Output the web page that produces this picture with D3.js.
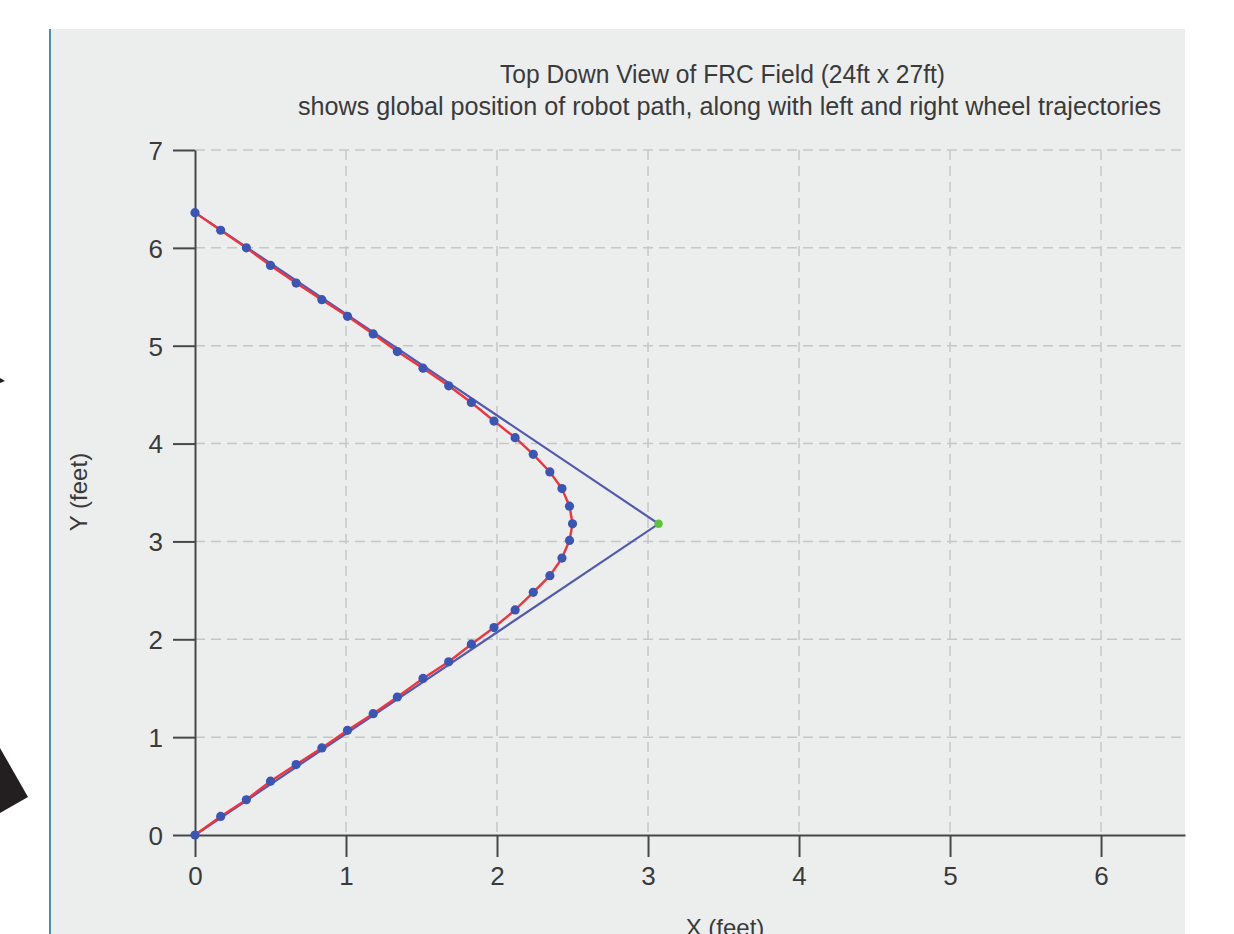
<!DOCTYPE html>
<html>
<head>
<meta charset="utf-8">
<script src="https://cdn.jsdelivr.net/npm/d3@7"></script>
<style>
  html, body { margin: 0; padding: 0; background: #fff; }
  svg { display: block; }
  text { font-family: "Liberation Sans", Arial, sans-serif; fill: #3a3a3a; }
</style>
</head>
<body>
<div id="chart"></div>
<script>
const WIDTH = 1234
const HEIGHT = 934
const PANEL_BG = '#eceeee'
const GRID_COLOR = '#c6c6c6'
const AXIS_COLOR = '#474747'
const PATH_RED = '#f0343c'
const DOT_BLUE = '#3a55b4'
const WAY_BLUE = '#5159b1'
const GREEN = '#5cc43c'

const TITLE = 'Top Down View of FRC Field (24ft x 27ft)'
const SUBTITLE = 'shows global position of robot path, along with left and right wheel trajectories'
const X_LABEL = 'X (feet)'
const Y_LABEL = 'Y (feet)'

const X_TICKS = [0, 1, 2, 3, 4, 5, 6]
const Y_TICKS = [0, 1, 2, 3, 4, 5, 6, 7]
const X_MAX = 6.556
const Y_MAX = 7

// waypoints (straight blue lines)
const WAYPOINT_X = [0, 3.07, 0]
const WAYPOINT_Y = [0, 3.18, 6.36]
// green marker
const MARKER_X = [3.07]
const MARKER_Y = [3.18]

// smoothed robot path (red line + blue dots)
const PATH_X = [0, 0.17, 0.34, 0.50, 0.67, 0.84, 1.01, 1.18, 1.34, 1.51, 1.68, 1.83, 1.98, 2.12, 2.24, 2.35, 2.43, 2.48, 2.50,
  2.48, 2.43, 2.35, 2.24, 2.12, 1.98, 1.83, 1.68, 1.51, 1.34, 1.18, 1.01, 0.84, 0.67, 0.50, 0.34, 0.17, 0]
const PATH_Y = [0, 0.19, 0.36, 0.55, 0.72, 0.89, 1.07, 1.24, 1.41, 1.60, 1.77, 1.95, 2.12, 2.30, 2.48, 2.65, 2.83, 3.01, 3.18,
  3.36, 3.54, 3.71, 3.89, 4.06, 4.23, 4.42, 4.59, 4.77, 4.94, 5.12, 5.30, 5.47, 5.64, 5.82, 6.00, 6.18, 6.36]

const PLOT = { left: 195, right: 1185, top: 150, bottom: 835 }

var svg = d3.select('#chart').append('svg')
  .attr('width', WIDTH).attr('height', HEIGHT)

// background panel
svg.append('rect').attr('x', 50).attr('y', 29)
  .attr('width', PLOT.right - 50).attr('height', HEIGHT - 29)
  .attr('fill', PANEL_BG)
svg.append('line').attr('x1', 50).attr('x2', 50).attr('y1', 29).attr('y2', HEIGHT)
  .attr('stroke', '#4b90aa').attr('stroke-width', 2)

// bits of the screenshot outside the panel
svg.append('path').attr('d', 'M0,748 L28,797 L0,813 Z').attr('fill', '#231f20')
svg.append('path').attr('d', 'M0,378 L5,381 L0,383 Z').attr('fill', '#231f20')

var x = d3.scaleLinear().domain([0, X_MAX]).range([PLOT.left, PLOT.right])
var y = d3.scaleLinear().domain([0, Y_MAX]).range([PLOT.bottom, PLOT.top])

// 网格
var grid = svg.append('g').attr('class', 'grid')
grid.selectAll('.hgrid').data(Y_TICKS.filter(d => d > 0)).enter().append('line')
  .attr('x1', PLOT.left).attr('x2', PLOT.right)
  .attr('y1', d => y(d)).attr('y2', d => y(d))
grid.selectAll('.vgrid').data(X_TICKS.filter(d => d > 0)).enter().append('line')
  .attr('y1', PLOT.top).attr('y2', PLOT.bottom)
  .attr('x1', d => x(d)).attr('x2', d => x(d))
grid.selectAll('line')
  .attr('stroke', GRID_COLOR).attr('stroke-width', 1.5).attr('stroke-dasharray', '10,6')

// axes
var fmt = d3.format('d')
var axisX = d3.axisBottom(x).tickValues(X_TICKS).tickFormat(fmt).tickSize(22).tickPadding(10).tickSizeOuter(0)
var axisY = d3.axisLeft(y).tickValues(Y_TICKS).tickFormat(fmt).tickSize(22).tickPadding(10).tickSizeOuter(0)

var gx = svg.append('g').attr('transform', `translate(0, ${PLOT.bottom})`).call(axisX)
var gy = svg.append('g').attr('transform', `translate(${PLOT.left}, 0)`).call(axisY)

;[gx, gy].forEach(g => {
  g.select('.domain').attr('stroke', AXIS_COLOR).attr('stroke-width', 2)
  g.selectAll('.tick line').attr('stroke', AXIS_COLOR).attr('stroke-width', 2)
  g.selectAll('.tick text').attr('font-size', 26).attr('fill', '#3a3a3a')
    .attr('font-family', '"Liberation Sans", Arial, sans-serif')
})
gy.selectAll('.tick text').attr('dy', '0.36em')

// waypoint lines
var line = d3.line().x(d => x(d[0])).y(d => y(d[1]))
var waypoints = WAYPOINT_X.map((v, i) => [v, WAYPOINT_Y[i]])
svg.append('path').datum(waypoints)
  .attr('d', line).attr('fill', 'none')
  .attr('stroke', WAY_BLUE).attr('stroke-width', 2.2)

// robot path
var path = PATH_X.map((v, i) => [v, PATH_Y[i]])
svg.append('path').datum(path)
  .attr('d', line).attr('fill', 'none')
  .attr('stroke', PATH_RED).attr('stroke-width', 2.4)

svg.append('g').selectAll('circle').data(path).enter().append('circle')
  .attr('cx', d => x(d[0])).attr('cy', d => y(d[1])).attr('r', 4.6)
  .attr('fill', DOT_BLUE)

svg.append('g').selectAll('circle').data(MARKER_X.map((v, i) => [v, MARKER_Y[i]])).enter().append('circle')
  .attr('cx', d => x(d[0])).attr('cy', d => y(d[1])).attr('r', 4.2)
  .attr('fill', GREEN)

// 标题
svg.append('text').text(TITLE)
  .attr('x', 722.5).attr('y', 83).attr('text-anchor', 'middle')
  .attr('font-size', 25).attr('textLength', 445).attr('lengthAdjust', 'spacingAndGlyphs')
svg.append('text').text(SUBTITLE)
  .attr('x', 729.5).attr('y', 115).attr('text-anchor', 'middle')
  .attr('font-size', 25).attr('textLength', 863).attr('lengthAdjust', 'spacingAndGlyphs')

// axis labels
svg.append('text').text(X_LABEL)
  .attr('x', 725).attr('y', 936).attr('text-anchor', 'middle').attr('font-size', 24)
svg.append('text').text(Y_LABEL)
  .attr('transform', 'translate(87, 492) rotate(-90)')
  .attr('text-anchor', 'middle').attr('font-size', 24)
</script>
</body>
</html>
